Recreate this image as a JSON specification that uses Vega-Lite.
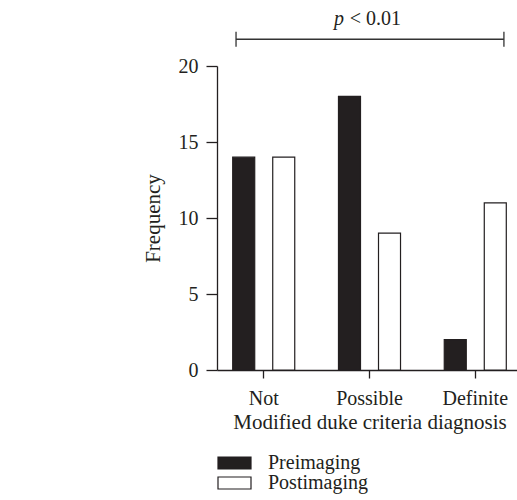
{
  "$schema": "https://vega.github.io/schema/vega-lite/v6.json",
  "width": 305,
  "height": 304,
  "autosize": {"type": "none"},
  "padding": {"left": 217, "top": 66, "right": 0, "bottom": 130},
  "background": "white",
  "config": {
    "view": {"stroke": null},
    "axis": {
      "grid": false,
      "domainColor": "#231f20",
      "tickColor": "#231f20",
      "labelColor": "#231f20",
      "titleColor": "#231f20",
      "labelFont": "Liberation Serif",
      "titleFont": "Liberation Serif",
      "titleFontWeight": "normal",
      "domainWidth": 1.3,
      "tickWidth": 1.3
    },
    "legend": {"labelFont": "Liberation Serif", "labelColor": "#231f20"}
  },
  "datasets": {
    "bars": [
      {"category": "Not", "group": "Preimaging", "value": 14},
      {"category": "Not", "group": "Postimaging", "value": 14},
      {"category": "Possible", "group": "Preimaging", "value": 18},
      {"category": "Possible", "group": "Postimaging", "value": 9},
      {"category": "Definite", "group": "Preimaging", "value": 2},
      {"category": "Definite", "group": "Postimaging", "value": 11}
    ],
    "hline": [{"xs": -0.255, "xe": 2.264, "y": 21.76}],
    "vlines": [
      {"x": -0.255, "ys": 21.27, "ye": 22.26},
      {"x": 2.264, "ys": 21.27, "ye": 22.26}
    ],
    "ptext": [{"x": 0.76, "y": 22.7, "t": "p"}],
    "vtext": [{"x": 0.815, "y": 22.7, "t": "< 0.01"}]
  },
  "resolve": {"scale": {"x": "independent"}, "axis": {"x": "independent"}},
  "layer": [
    {
      "data": {"name": "bars"},
      "mark": {"type": "bar", "stroke": "#231f20", "strokeWidth": 1.2},
      "encoding": {
        "x": {
          "field": "category", "type": "nominal",
          "sort": ["Not", "Possible", "Definite"],
          "scale": {"paddingInner": 0.4135, "paddingOuter": 0.1485},
          "axis": {"title": "Modified duke criteria diagnosis", "labelAngle": 0, "tickSize": 8, "labelFontSize": 20, "titleFontSize": 21, "labelPadding": 10, "titlePadding": 3}
        },
        "xOffset": {
          "field": "group", "type": "nominal",
          "sort": ["Preimaging", "Postimaging"],
          "scale": {"paddingInner": 0.45, "paddingOuter": 0}
        },
        "y": {
          "field": "value", "type": "quantitative", "title": "Frequency",
          "scale": {"domain": [0, 20], "nice": false},
          "axis": {"values": [0, 5, 10, 15, 20], "tickSize": 11, "labelFontSize": 20, "titleFontSize": 21, "labelPadding": 8, "titlePadding": 15}
        },
        "fill": {
          "field": "group", "type": "nominal",
          "scale": {"domain": ["Preimaging", "Postimaging"], "range": ["#231f20", "#ffffff"]},
          "legend": {
            "orient": "none", "legendX": 7.5, "legendY": 387, "title": null, "padding": 0,
            "symbolType": "M-2.75,-1H2.75V1H-2.75Z", "symbolSize": 144,
            "symbolStrokeColor": "#231f20", "symbolStrokeWidth": 1.2,
            "labelFontSize": 20, "labelOffset": 23.5, "rowPadding": -4
          }
        }
      }
    },
    {
      "data": {"name": "hline"},
      "mark": {"type": "rule", "color": "#333333", "strokeWidth": 1.3},
      "encoding": {
        "x": {"field": "xs", "type": "quantitative", "scale": {"domain": [-0.434, 2.434], "nice": false, "zero": false}, "axis": null},
        "x2": {"field": "xe"},
        "y": {"field": "y", "type": "quantitative", "title": "Frequency", "scale": {"domain": [0, 20], "nice": false}}
      }
    },
    {
      "data": {"name": "vlines"},
      "mark": {"type": "rule", "color": "#333333", "strokeWidth": 1.3},
      "encoding": {
        "x": {"field": "x", "type": "quantitative", "scale": {"domain": [-0.434, 2.434], "nice": false, "zero": false}, "axis": null},
        "y": {"field": "ys", "type": "quantitative", "title": "Frequency", "scale": {"domain": [0, 20], "nice": false}},
        "y2": {"field": "ye"}
      }
    },
    {
      "data": {"name": "ptext"},
      "mark": {"type": "text", "font": "Liberation Serif", "fontStyle": "italic", "fontSize": 20, "align": "right", "baseline": "alphabetic", "color": "#231f20"},
      "encoding": {
        "x": {"field": "x", "type": "quantitative", "scale": {"domain": [-0.434, 2.434], "nice": false, "zero": false}, "axis": null},
        "y": {"field": "y", "type": "quantitative", "title": "Frequency", "scale": {"domain": [0, 20], "nice": false}},
        "text": {"field": "t"}
      }
    },
    {
      "data": {"name": "vtext"},
      "mark": {"type": "text", "font": "Liberation Serif", "fontSize": 20, "align": "left", "baseline": "alphabetic", "color": "#231f20"},
      "encoding": {
        "x": {"field": "x", "type": "quantitative", "scale": {"domain": [-0.434, 2.434], "nice": false, "zero": false}, "axis": null},
        "y": {"field": "y", "type": "quantitative", "title": "Frequency", "scale": {"domain": [0, 20], "nice": false}},
        "text": {"field": "t"}
      }
    }
  ]
}
